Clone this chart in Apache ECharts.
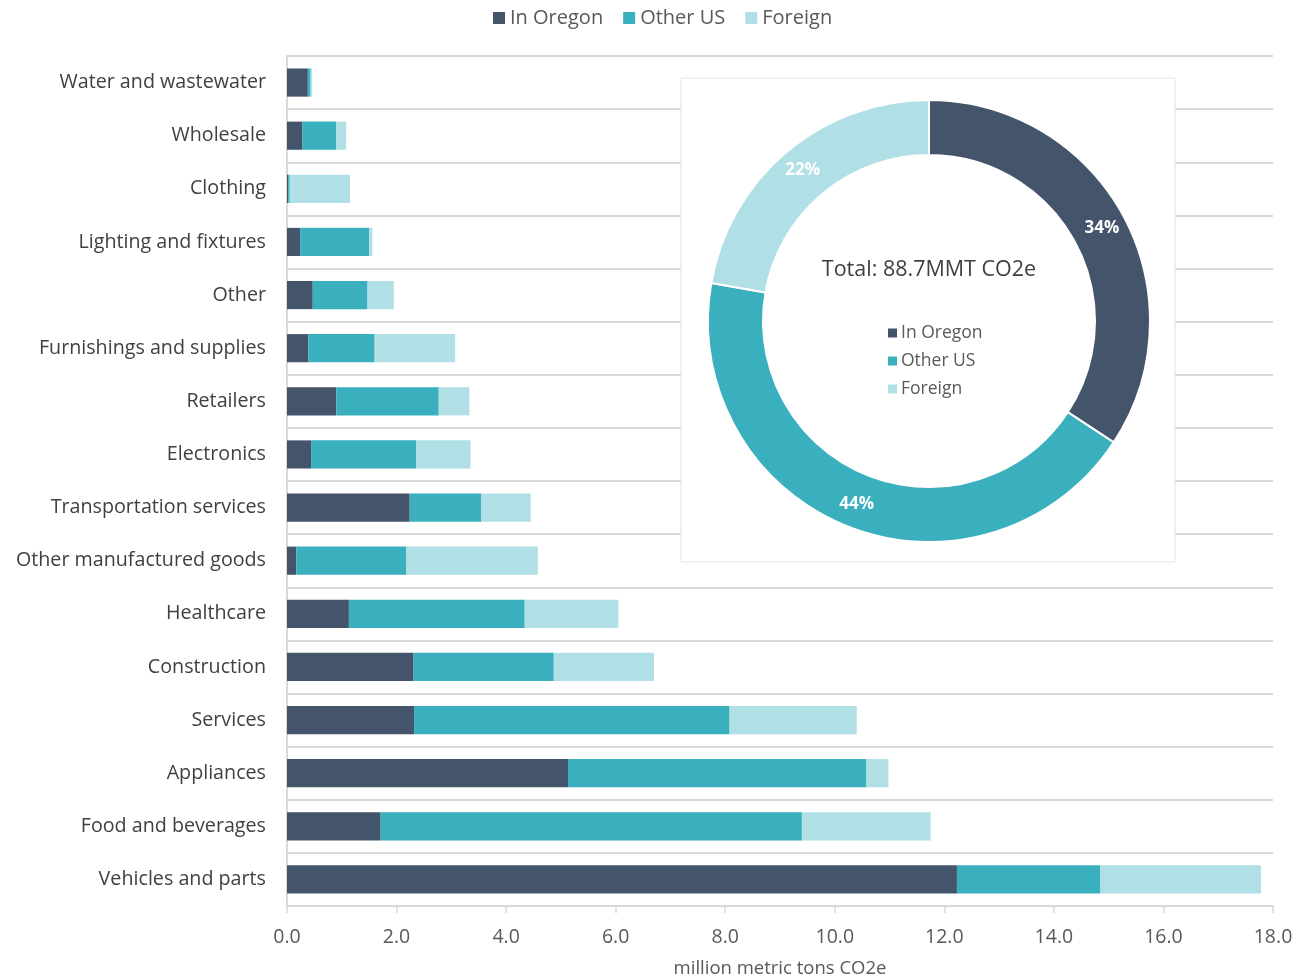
<!DOCTYPE html>
<html><head><meta charset="utf-8">
<script src="https://cdn.jsdelivr.net/npm/echarts@6/dist/echarts.min.js"></script>
<style>html,body{margin:0;padding:0;background:#fff}#c{width:1299px;height:978px}</style>
</head><body><div id="c"></div>
<script>
const categories = ["Water and wastewater","Wholesale","Clothing","Lighting and fixtures","Other","Furnishings and supplies","Retailers","Electronics","Transportation services","Other manufactured goods","Healthcare","Construction","Services","Appliances","Food and beverages","Vehicles and parts"];
const inOregon = [0.38,0.28,0.02,0.24,0.47,0.39,0.90,0.44,2.24,0.17,1.13,2.31,2.32,5.13,1.71,12.23];
const otherUS  = [0.05,0.62,0.03,1.26,1.00,1.21,1.87,1.92,1.31,2.01,3.21,2.56,5.76,5.44,7.69,2.62];
const foreign  = [0.03,0.18,1.10,0.06,0.48,1.47,0.56,0.99,0.90,2.40,1.71,1.83,2.32,0.41,2.35,2.93];
const seriesNames = ["In Oregon","Other US","Foreign"];
const totalLabel = "Total: 88.7MMT CO2e";
const axisName = "million metric tons CO2e";
const colors = ["#44546a","#3aafbd","#b0e0e5"];
const sum = a => a.reduce((s,v)=>s+v,0);
const pieData = [sum(inOregon),sum(otherUS),sum(foreign)].map((v,i)=>({name:seriesNames[i],value:v}));

const font = "'Open Sans', 'Noto Sans', sans-serif";
const chart = echarts.init(document.getElementById('c'));
const bar = (name,data,i)=>({name,type:'bar',stack:'t',data,barWidth:'53%',itemStyle:{color:colors[i]},z:2});
chart.setOption({
  animation:false,
  textStyle:{fontFamily:font},
  color:colors,
  legend:[{
    data:seriesNames, top:3, left:488, icon:'rect', itemWidth:12, itemHeight:12, itemGap:20,
    textStyle:{fontSize:20,color:'#595959',fontFamily:font}
  },{
    data:seriesNames, orient:'vertical', left:883, top:319, icon:'rect', itemWidth:9, itemHeight:9, itemGap:10,
    textStyle:{fontSize:17.5,color:'#595959',fontFamily:font,padding:[0,0,0,-1]}, z:20, selectedMode:false
  }],
  grid:{left:287,right:26,top:56,bottom:72,containLabel:false,outerBoundsMode:'none'},
  xAxis:{type:'value',min:0,max:18,interval:2,
    axisLine:{show:true,lineStyle:{color:'#d9d9d9',width:2}},
    axisTick:{show:true,length:7,lineStyle:{color:'#d9d9d9',width:1.5}},
    splitLine:{show:false},
    axisLabel:{formatter:v=>v.toFixed(1),fontSize:19.5,color:'#595959',margin:21,fontFamily:font},
    name:axisName,nameLocation:'middle',nameGap:53,nameTextStyle:{fontSize:18.5,color:'#595959',fontFamily:font}},
  yAxis:{type:'category',inverse:true,data:categories,
    axisLine:{show:true,lineStyle:{color:'#d9d9d9',width:2}},
    axisTick:{show:false},
    splitLine:{show:true,lineStyle:{color:'#d9d9d9',width:2}},
    axisLabel:{fontSize:19.7,color:'#404040',margin:21,fontFamily:font}},
  graphic:[
    {type:'rect',shape:{x:681,y:78,width:494,height:484},style:{fill:'#fff',stroke:'#e3e3e3',lineWidth:1},z:1},
    {type:'text',x:929,y:270,style:{text:totalLabel,fontSize:21.5,fill:'#404040',fontFamily:font,textAlign:'center',textVerticalAlign:'middle'},z:110}
  ],
  series:[
    bar(seriesNames[0],inOregon,0),
    bar(seriesNames[1],otherUS,1),
    bar(seriesNames[2],foreign,2),
    {type:'pie',center:[929,321],radius:[166,221],startAngle:90,clockwise:true,z:120,
     data:pieData,
     itemStyle:{borderColor:'#fff',borderWidth:2},
     label:{position:'inside',formatter:p=>Math.round(p.percent)+'%',color:'#fff',fontWeight:'bold',fontSize:17,fontFamily:font},
     labelLine:{show:false},emphasis:{disabled:true}}
  ]
});
</script></body></html>
